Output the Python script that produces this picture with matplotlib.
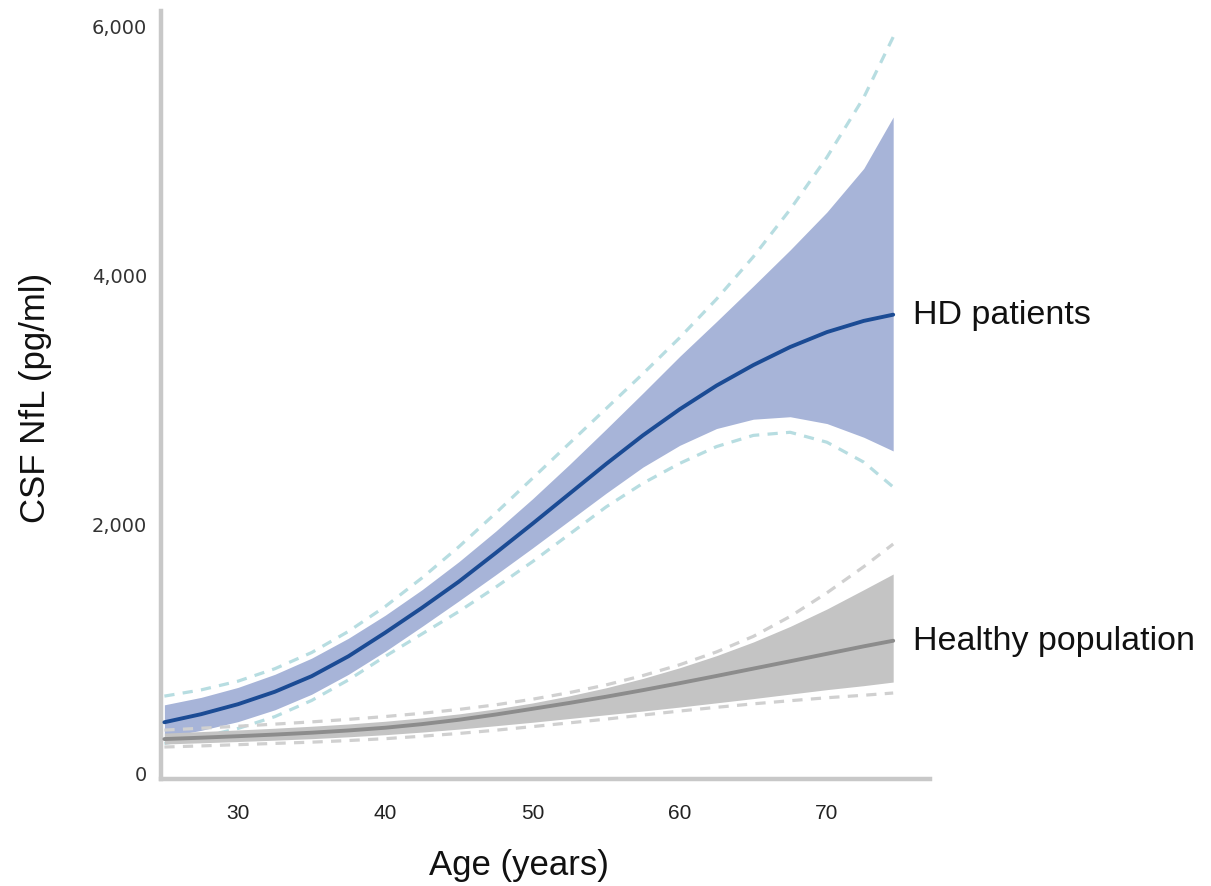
import matplotlib.pyplot as plt
from matplotlib.ticker import FuncFormatter

# values (pg/ml)
ages = [25, 27.5, 30, 32.5, 35, 37.5, 40, 42.5, 45, 47.5, 50, 52.5,
        55, 57.5, 60, 62.5, 65, 67.5, 70, 72.5, 74.5]

hd_mean = [400, 465, 545, 645, 770, 930, 1120, 1320, 1530, 1760, 1995, 2235,
           2475, 2705, 2915, 3105, 3270, 3415, 3535, 3625, 3675]
hd_lo = [280, 335, 405, 500, 625, 785, 970, 1170, 1375, 1585, 1800, 2020,
         2240, 2450, 2625, 2760, 2835, 2855, 2800, 2690, 2580]
hd_hi = [540, 600, 680, 785, 915, 1075, 1260, 1465, 1690, 1935, 2195, 2470,
         2755, 3045, 3340, 3620, 3905, 4195, 4500, 4850, 5263]
hd_pi_lo = [230, 280, 350, 445, 575, 740, 930, 1110, 1290, 1485, 1690, 1910,
            2130, 2320, 2480, 2615, 2705, 2730, 2650, 2490, 2290]
hd_pi_hi = [610, 660, 730, 830, 960, 1130, 1330, 1560, 1810, 2080, 2360, 2640,
            2920, 3200, 3490, 3800, 4140, 4520, 4940, 5420, 5906]

hc_mean = [265, 276, 288, 301, 316, 334, 356, 385, 420, 462, 508, 555,
           605, 658, 714, 772, 831, 890, 950, 1010, 1055]
hc_lo = [225, 235, 245, 256, 268, 283, 300, 321, 345, 372, 400, 430,
         460, 490, 522, 556, 590, 626, 662, 694, 723]
hc_hi = [313, 325, 338, 352, 368, 386, 408, 435, 467, 507, 555, 612,
         677, 752, 838, 935, 1045, 1170, 1310, 1465, 1591]
hc_pi_lo = [201, 210, 220, 230, 240, 253, 268, 288, 310, 336, 365, 395,
            425, 458, 490, 520, 548, 573, 597, 617, 635]
hc_pi_hi = [337, 352, 368, 385, 403, 423, 446, 472, 503, 540, 585, 638,
            700, 775, 862, 965, 1090, 1250, 1440, 1650, 1832]

yticks = [0, 2000, 4000, 6000]
xticks = [30, 40, 50, 60, 70]

sans = ['Liberation Sans', 'DejaVu Sans']
dash = (3.2, 2.6)

fig = plt.figure(figsize=(12.11, 8.87), dpi=100)
ax = fig.add_axes([161 / 1211, 1 - 780 / 887, (930 - 161) / 1211, (780 - 12) / 887])

# HD patients
ax.fill_between(ages, hd_lo, hd_hi, color='#a7b4d8', lw=0, zorder=1)
ax.plot(ages, hd_pi_lo, color='#b7dde1', lw=2.3, dashes=dash, zorder=2)
ax.plot(ages, hd_pi_hi, color='#b7dde1', lw=2.3, dashes=dash, zorder=2)
ax.plot(ages, hd_mean, color='#1b4b94', lw=2.8, solid_capstyle='round',
        solid_joinstyle='round', zorder=3)

# healthy population
ax.fill_between(ages, hc_lo, hc_hi, color='#c4c4c4', lw=0, zorder=4)
ax.plot(ages, hc_pi_lo, color='#d0d0d0', lw=2.3, dashes=dash, zorder=5)
ax.plot(ages, hc_pi_hi, color='#d0d0d0', lw=2.3, dashes=dash, zorder=5)
ax.plot(ages, hc_mean, color='#8c8c8c', lw=2.8, solid_capstyle='round',
        solid_joinstyle='round', zorder=6)

ax.annotate('HD patients', xy=(ages[-1], hd_mean[-1]), xytext=(14, 0),
            textcoords='offset points', va='center', ha='left',
            fontsize=24.5, family=sans, color='#111111', annotation_clip=False)
ax.annotate('Healthy population', xy=(ages[-1], hc_mean[-1]), xytext=(14, 0),
            textcoords='offset points', va='center', ha='left',
            fontsize=24.5, family=sans, color='#111111', annotation_clip=False)

ax.set_xlim(24.77, 77.0)
ax.set_ylim(-56, 6115)
ax.set_xticks(xticks)
ax.set_yticks(yticks)
ax.yaxis.set_major_formatter(FuncFormatter(lambda v, p: f'{int(v):,}'))
ax.tick_params(length=0)
ax.tick_params(axis='y', pad=10, labelsize=14, labelcolor='#333333')
ax.tick_params(axis='x', pad=17, labelsize=15, labelcolor='#222222')
for lab in ax.get_xticklabels():
    lab.set_family(sans)
for lab in ax.get_yticklabels():
    lab.set_family(['DejaVu Sans'])

for side in ['top', 'right']:
    ax.spines[side].set_visible(False)
for side in ['left', 'bottom']:
    ax.spines[side].set_color('#c8c8c8')
    ax.spines[side].set_linewidth(3.2)

fig.text(519 / 1211, 1 - 866 / 887, 'Age (years)', ha='center', va='center',
         fontsize=25, family=sans, color='#111111')
fig.text(36 / 1211, 1 - 398 / 887, 'CSF NfL (pg/ml)', ha='center', va='center',
         rotation=90, fontsize=25, family=sans, color='#111111')

fig.savefig('out.png', dpi=100)
